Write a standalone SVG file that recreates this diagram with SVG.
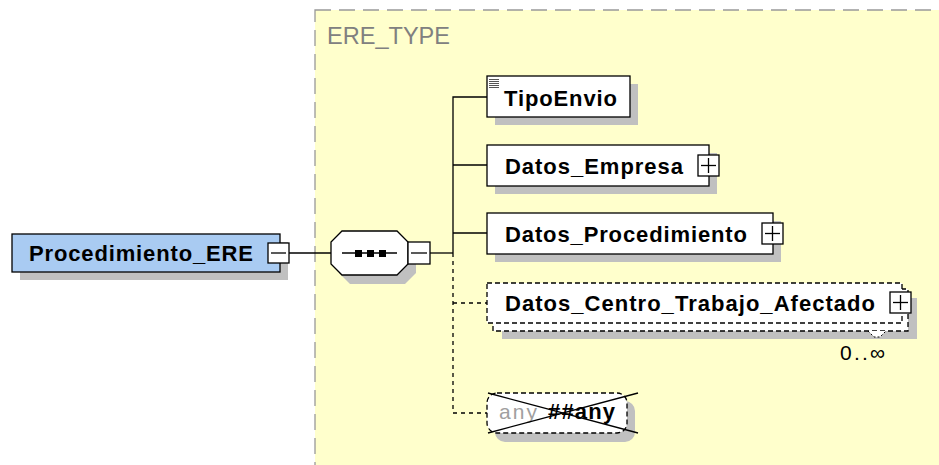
<svg xmlns="http://www.w3.org/2000/svg" width="939" height="465" viewBox="0 0 939 465">
<defs>
<style>
.lbl{font-family:"Liberation Sans",Arial,sans-serif;font-weight:bold;font-size:22px;fill:#000}
.box{fill:#fff;stroke:#000;stroke-width:1.3}
.dbox{fill:#fff;stroke:#000;stroke-width:1.3;stroke-dasharray:5 3}
.sh{fill:#c0c0c0}
.ln{stroke:#000;stroke-width:1.3;fill:none}
.dln{stroke:#000;stroke-width:1.3;fill:none;stroke-dasharray:4 4}
.pm{fill:#fff;stroke:#000;stroke-width:1.3}
</style>
</defs>
<rect width="939" height="465" fill="#fff"/>
<g id="ERE_TYPE">
<rect x="315" y="10" width="640" height="470" fill="#ffffcc" stroke="#999" stroke-width="1.3" stroke-dasharray="16 8"/>
<text x="327" y="44" font-family="Liberation Sans,Arial,sans-serif" font-size="23" fill="#808080" textLength="123" lengthAdjust="spacingAndGlyphs">ERE_TYPE</text>
</g>
<g id="connectors">
<line class="ln" x1="289" y1="253" x2="331" y2="253"/>
<line class="ln" x1="430" y1="253" x2="453" y2="253"/>
<polyline class="ln" points="487,97 453,97 453,253"/>
<line class="ln" x1="453" y1="165" x2="487" y2="165"/>
<line class="ln" x1="453" y1="233" x2="487" y2="233"/>
<polyline class="dln" points="453,253 453,413 487,413"/>
<line class="dln" x1="453" y1="303" x2="487" y2="303"/>
</g>
<g id="Procedimiento_ERE">
<rect class="sh" x="20" y="242" width="268" height="38"/>
<rect x="12" y="234" width="268" height="38" fill="#a9cbf2" stroke="#000" stroke-width="1.3"/>
<text class="lbl" x="29" y="261" textLength="224" lengthAdjust="spacing">Procedimiento_ERE</text>
<rect class="pm" x="268" y="243" width="21" height="20"/>
<line class="ln" x1="271" y1="253" x2="286" y2="253"/>
</g>
<g id="sequence">
<polygon class="sh" points="350,240 405,240 416,251 416,273 405,284 350,284 339,273 339,251"/>
<polygon points="342,231 397,231 408,242 408,264 397,275 342,275 331,264 331,242" fill="#fff" stroke="#000" stroke-width="1.3"/>
<line class="ln" x1="342" y1="253" x2="397" y2="253"/>
<rect x="355" y="250" width="7" height="7" fill="#000"/>
<rect x="367" y="250" width="7" height="7" fill="#000"/>
<rect x="379" y="250" width="7" height="7" fill="#000"/>
<rect class="pm" x="408" y="242" width="22" height="22"/>
<line class="ln" x1="411" y1="253" x2="427" y2="253"/>
</g>
<g id="TipoEnvio">
<rect class="sh" x="495" y="84" width="143" height="41"/>
<rect class="box" x="487" y="76" width="143" height="41"/>
<g stroke="#555" stroke-width="1">
<line x1="489" y1="79.5" x2="499" y2="79.5"/><line x1="489" y1="81.5" x2="499" y2="81.5"/><line x1="489" y1="83.5" x2="499" y2="83.5"/><line x1="489" y1="85.5" x2="499" y2="85.5"/><line x1="489" y1="87.5" x2="499" y2="87.5"/>
</g>
<text class="lbl" x="504" y="106" textLength="113" lengthAdjust="spacing">TipoEnvio</text>
</g>
<g id="Datos_Empresa">
<rect class="sh" x="495" y="153" width="222" height="41"/>
<rect class="box" x="487" y="145" width="222" height="41"/>
<text class="lbl" x="505" y="174" textLength="178" lengthAdjust="spacing">Datos_Empresa</text>
<rect class="pm" x="698" y="155" width="21" height="21"/>
<line class="ln" x1="701" y1="165.5" x2="716" y2="165.5"/><line class="ln" x1="708.5" y1="158" x2="708.5" y2="173"/>
</g>
<g id="Datos_Procedimiento">
<rect class="sh" x="495" y="221" width="286" height="41"/>
<rect class="box" x="487" y="213" width="286" height="41"/>
<text class="lbl" x="505" y="242" textLength="242" lengthAdjust="spacing">Datos_Procedimiento</text>
<rect class="pm" x="762" y="223" width="21" height="21"/>
<line class="ln" x1="765" y1="233.5" x2="780" y2="233.5"/><line class="ln" x1="772.5" y1="226" x2="772.5" y2="241"/>
</g>
<g id="Datos_Centro_Trabajo_Afectado">
<rect class="sh" x="502" y="298" width="415" height="41"/>
<rect class="dbox" x="493" y="289" width="415" height="42"/>
<rect class="dbox" x="487" y="283" width="415" height="40"/>
<text class="lbl" x="505" y="311" textLength="370" lengthAdjust="spacing">Datos_Centro_Trabajo_Afectado</text>
<rect class="pm" x="890" y="292" width="21" height="21"/>
<line class="ln" x1="893" y1="302.5" x2="908" y2="302.5"/><line class="ln" x1="900.5" y1="295" x2="900.5" y2="310"/>
<polyline points="868,331 874,337 880,337 886,331" fill="#fff" stroke="#000" stroke-width="1" stroke-dasharray="2 2"/>
<text x="840" y="360" font-family="Liberation Sans,Arial,sans-serif" font-size="21" fill="#000" textLength="45" lengthAdjust="spacing">0..∞</text>
</g>
<g id="any">
<rect class="sh" x="495" y="401" width="140" height="41" rx="10"/>
<rect class="dbox" x="487" y="393" width="140" height="40" rx="10"/>
<text x="499" y="419" font-family="Liberation Sans,Arial,sans-serif" font-size="21" fill="#a0a0a0" textLength="38" lengthAdjust="spacing">any</text>
<text class="lbl" x="548" y="419" textLength="67" lengthAdjust="spacing">##any</text>
<line x1="488" y1="393" x2="638" y2="433" stroke="#000" stroke-width="1.3"/>
<line x1="638" y1="393" x2="488" y2="433" stroke="#000" stroke-width="1.3"/>
</g>
</svg>
